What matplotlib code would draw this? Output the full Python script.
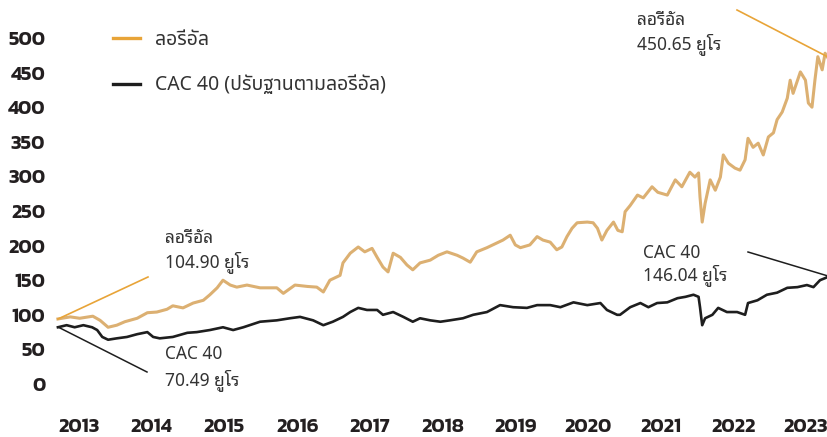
import matplotlib
matplotlib.use('Agg')
import matplotlib.pyplot as plt
from matplotlib.lines import Line2D

# ---------------- data (decimal years, euro values) ----------------
loreal_t = [2012.71, 2012.88, 2013.01, 2013.19, 2013.29, 2013.40, 2013.52, 2013.63, 2013.80, 2013.94,
            2014.07, 2014.21, 2014.29, 2014.43, 2014.57, 2014.71, 2014.80, 2014.90, 2014.98, 2015.08,
            2015.17, 2015.31, 2015.49, 2015.72, 2015.81, 2015.97, 2016.14, 2016.27, 2016.36, 2016.45,
            2016.59, 2016.63, 2016.73, 2016.84, 2016.93, 2017.03, 2017.10, 2017.18, 2017.25, 2017.32,
            2017.42, 2017.51, 2017.59, 2017.69, 2017.83, 2017.94, 2018.06, 2018.20, 2018.28, 2018.38,
            2018.47, 2018.61, 2018.75, 2018.83, 2018.93, 2019.00, 2019.07, 2019.20, 2019.30, 2019.38,
            2019.48, 2019.57, 2019.64, 2019.71, 2019.78, 2019.85, 2019.99, 2020.07, 2020.13, 2020.19,
            2020.26, 2020.35, 2020.41, 2020.47, 2020.51, 2020.58, 2020.68, 2020.76, 2020.88, 2020.96,
            2021.09, 2021.20, 2021.29, 2021.40, 2021.47, 2021.52, 2021.54, 2021.57, 2021.61, 2021.68,
            2021.75, 2021.82, 2021.86, 2021.93, 2022.02, 2022.09, 2022.16, 2022.20, 2022.27, 2022.34,
            2022.41, 2022.48, 2022.55, 2022.60, 2022.67, 2022.74, 2022.78, 2022.82, 2022.92, 2022.99,
            2023.03, 2023.08, 2023.12, 2023.16, 2023.22, 2023.26, 2023.30]
loreal_v = [94, 97, 95, 98, 92, 82, 85, 90, 95, 103,
            104, 108, 113, 110, 117, 121, 129, 139, 150, 143,
            140, 143, 139, 139, 131, 143, 141, 140, 133, 150,
            157, 175, 189, 198, 191, 196, 183, 169, 162, 189,
            183, 172, 165, 175, 179, 186, 191, 186, 182, 176,
            191, 197, 204, 208, 215, 201, 197, 201, 213, 208,
            205, 194, 198, 213, 225, 233, 234, 233, 225, 208,
            222, 234, 222, 220, 249, 258, 273, 269, 285, 277,
            273, 295, 285, 306, 299, 305, 270, 234, 261, 295,
            280, 299, 331, 319, 312, 309, 324, 355, 342, 348,
            331, 357, 363, 382, 393, 413, 439, 420, 451, 439,
            406, 400, 439, 473, 454, 478, 471]

cac_t = [2012.71, 2012.83, 2012.94, 2013.06, 2013.18, 2013.25, 2013.32, 2013.40, 2013.52, 2013.66,
         2013.80, 2013.94, 2014.02, 2014.11, 2014.29, 2014.49, 2014.62, 2014.80, 2014.98, 2015.12,
         2015.26, 2015.49, 2015.72, 2015.90, 2016.04, 2016.22, 2016.36, 2016.49, 2016.63, 2016.73,
         2016.84, 2016.96, 2017.10, 2017.18, 2017.32, 2017.46, 2017.59, 2017.69, 2017.83, 2017.97,
         2018.10, 2018.28, 2018.42, 2018.61, 2018.79, 2018.97, 2019.16, 2019.30, 2019.48, 2019.62,
         2019.80, 2019.99, 2020.17, 2020.26, 2020.40, 2020.44, 2020.58, 2020.72, 2020.83, 2020.95,
         2021.09, 2021.23, 2021.34, 2021.45, 2021.52, 2021.54, 2021.57, 2021.61, 2021.71, 2021.79,
         2021.91, 2022.05, 2022.16, 2022.20, 2022.33, 2022.46, 2022.60, 2022.74, 2022.88, 2023.01,
         2023.10, 2023.19, 2023.26, 2023.30]
cac_v = [82, 85, 82, 85, 82, 78, 68, 64, 66, 68,
         72, 75, 68, 66, 68, 74, 75, 78, 82, 78,
         82, 90, 92, 95, 97, 92, 85, 90, 97, 104,
         110, 107, 107, 100, 104, 97, 90, 95, 92, 90,
         92, 95, 100, 104, 114, 111, 110, 114, 114, 111,
         118, 114, 117, 107, 100, 100, 111, 117, 111, 117,
         118, 124, 126, 129, 126, 111, 85, 95, 100, 110,
         104, 104, 100, 117, 121, 129, 132, 139, 140, 143,
         140, 150, 153, 155]

years = list(range(2013, 2024))
year_labels = [str(y) for y in years]
yticks = list(range(0, 501, 50))

series_names = ['ลอรีอัล', 'CAC 40 (ปรับฐานตามลอรีอัล)']
ann_loreal_start = ['ลอรีอัล', '104.90 ยูโร']
ann_cac_start = ['CAC 40', '70.49 ยูโร']
ann_loreal_end = ['ลอรีอัล', '450.65 ยูโร']
ann_cac_end = ['CAC 40', '146.04 ยูโร']

# ---------------- style ----------------
W, H = 828, 437
GOLD = '#DCB072'
ORANGE = '#E8A438'
BLACK = '#1E1E1E'
TEXT = '#333333'
TICKFONT = ['Kanit', 'DejaVu Sans']
LEGFONT = ['Noto Sans Thai', 'DejaVu Sans']
ANNFONT = ['Noto Sans Thai Looped', 'Noto Sans Thai', 'DejaVu Sans']

def fx(px):
    return px / W

def fy(py):
    return 1 - py / H

fig = plt.figure(figsize=(W / 100, H / 100), dpi=100)
ax = fig.add_axes([fx(55), fy(400), fx(828) - fx(55), fy(0) - fy(400)])
ax.set_xlim(2012.67, 2023.30)
ax.set_ylim(-23.1, 554.9)

ax.plot(loreal_t, loreal_v, color=GOLD, lw=2.2, solid_joinstyle='round', zorder=3)
ax.plot(cac_t, cac_v, color=BLACK, lw=1.9, solid_joinstyle='round', zorder=3)

for s in ax.spines.values():
    s.set_visible(False)
ax.set_xticks(years)
ax.set_xticklabels(year_labels)
ax.set_yticks(yticks)
ax.set_yticklabels([str(v) for v in yticks])
ax.tick_params(axis='both', length=0, colors='#231F20')
ax.tick_params(axis='x', pad=13)
ax.tick_params(axis='y', pad=7)
for lab in ax.get_xticklabels() + ax.get_yticklabels():
    lab.set_fontfamily(TICKFONT)
    lab.set_fontweight('semibold')
    lab.set_fontsize(14.5)

# legend (manual)
fig.add_artist(Line2D([fx(113), fx(140)], [fy(38), fy(38)], color=ORANGE, lw=2.4))
fig.add_artist(Line2D([fx(113), fx(140)], [fy(84), fy(84)], color=BLACK, lw=2.4))
fig.text(fx(155), fy(40), series_names[0], family=LEGFONT, fontsize=14, color=TEXT, va='center', ha='left')
fig.text(fx(155), fy(85), series_names[1], family=LEGFONT, fontsize=14, color=TEXT, va='center', ha='left')

# annotations
def ann(lines, x, y1, y2):
    fig.text(fx(x), fy(y1), lines[0], family=ANNFONT, fontsize=12.5, color=TEXT, va='center', ha='left')
    fig.text(fx(x), fy(y2), lines[1], family=ANNFONT, fontsize=12.5, color=TEXT, va='center', ha='left')

ann(ann_loreal_start, 165, 238, 262)
ann(ann_cac_start, 165, 354, 380)
ann(ann_loreal_end, 637, 20, 44)
ann(ann_cac_end, 643, 253, 275)

# leader lines
fig.add_artist(Line2D([fx(58), fx(148)], [fy(319), fy(277)], color=ORANGE, lw=1.2))
fig.add_artist(Line2D([fx(58), fx(147)], [fy(327), fy(372)], color=BLACK, lw=1.1))
fig.add_artist(Line2D([fx(737), fx(828)], [fy(10), fy(57)], color=ORANGE, lw=1.2))
fig.add_artist(Line2D([fx(748), fx(828)], [fy(252), fy(276)], color=BLACK, lw=1.1))

fig.savefig('out.png', dpi=100)
